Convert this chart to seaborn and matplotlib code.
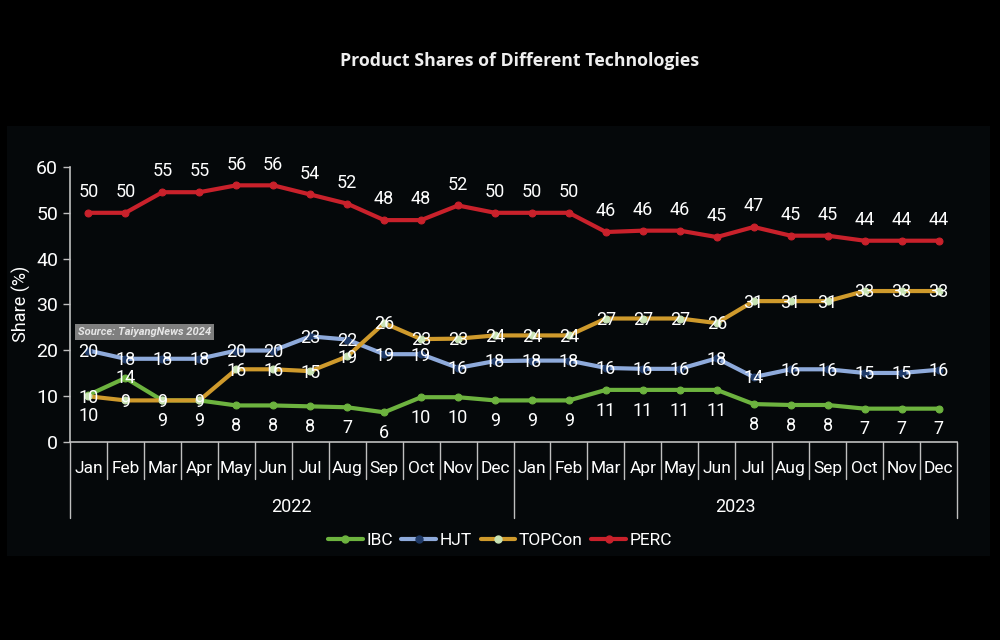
import pandas as pd
import seaborn as sns
import matplotlib.pyplot as plt
from matplotlib import font_manager as fm
from matplotlib.lines import Line2D
from matplotlib.patches import Rectangle

# monthly product share (%) per technology, Jan 2022 .. Dec 2023
months = ["Jan", "Feb", "Mar", "Apr", "May", "Jun",
          "Jul", "Aug", "Sep", "Oct", "Nov", "Dec"]
years = ["2022", "2023"]

ibc = [10.2, 13.9, 9.0, 9.0, 7.9, 7.9, 7.7, 7.5, 6.4, 9.7, 9.7, 9.0,
       9.0, 9.0, 11.3, 11.3, 11.3, 11.3, 8.2, 8.0, 8.0, 7.2, 7.2, 7.2]
hjt = [19.9, 18.1, 18.1, 18.1, 19.9, 19.9, 23.0, 22.3, 19.1, 19.1, 16.1, 17.6,
       17.7, 17.7, 16.1, 15.9, 15.9, 18.2, 14.1, 15.8, 15.8, 15.0, 15.0, 15.7]
topcon = [9.9, 9.0, 9.0, 9.0, 15.8, 15.8, 15.4, 18.6, 25.9, 22.4, 22.5, 23.2,
          23.2, 23.2, 26.9, 26.9, 26.9, 25.9, 30.7, 30.7, 30.7, 32.9, 32.9, 32.9]
perc = [50.0, 50.0, 54.5, 54.5, 56.0, 56.0, 54.0, 52.0, 48.4, 48.4, 51.6, 50.0,
        50.0, 50.0, 45.8, 46.1, 46.1, 44.7, 46.9, 45.0, 45.0, 43.9, 43.9, 43.9]

# printed labels (rounded shares as shown on the chart)
ibc_lbl = [10, 14, 9, 9, 8, 8, 8, 7, 6, 10, 10, 9, 9, 9, 11, 11, 11, 11, 8, 8, 8, 7, 7, 7]
hjt_lbl = [20, 18, 18, 18, 20, 20, 23, 22, 19, 19, 16, 18, 18, 18, 16, 16, 16, 18, 14, 16, 16, 15, 15, 16]
topcon_lbl = [10, 9, 9, 9, 16, 16, 15, 19, 26, 23, 23, 24, 24, 24, 27, 27, 27, 26, 31, 31, 31, 33, 33, 33]
perc_lbl = [50, 50, 55, 55, 56, 56, 54, 52, 48, 48, 52, 50, 50, 50, 46, 46, 46, 45, 47, 45, 45, 44, 44, 44]

techs = ["IBC", "HJT", "TOPCon", "PERC"]
series = {"IBC": ibc, "HJT": hjt, "TOPCon": topcon, "PERC": perc}
labels = {"IBC": ibc_lbl, "HJT": hjt_lbl, "TOPCon": topcon_lbl, "PERC": perc_lbl}

n = len(months) * len(years)
df = pd.DataFrame([
    {"idx": i, "share": v, "tech": t}
    for t in techs for i, v in enumerate(series[t])
])

line_col = {"IBC": "#6db33f", "HJT": "#8eaadb", "TOPCon": "#cf9a2c", "PERC": "#c9212b"}
mark_col = {"IBC": "#6db33f", "HJT": "#1f3a68", "TOPCon": "#c8e3b4", "PERC": "#c9212b"}

panel = "#05080a"
grey = "#bfbfbf"

sns.set_theme(style="dark")
names = {f.name for f in fm.fontManager.ttflist}
narrow = "Liberation Sans Narrow" if "Liberation Sans Narrow" in names else "Roboto"
plt.rcParams["font.family"] = [narrow, "DejaVu Sans"]

fig = plt.figure(figsize=(10, 6.4), dpi=100, facecolor="black")
fig.patches.append(Rectangle((0.007, 0.132), 0.983, 0.671, transform=fig.transFigure,
                             facecolor=panel, edgecolor="none", zorder=-5))
ax = fig.add_axes([0.07, 0.31, 0.887, 0.429])
ax.set_zorder(2)
ax.set_facecolor(panel)

for t in techs:
    sns.lineplot(data=df[df.tech == t], x="idx", y="share", ax=ax,
                 color=line_col[t], linewidth=3, marker="o", markersize=5,
                 markerfacecolor=mark_col[t], markeredgecolor=mark_col[t],
                 label=t, legend=False)

# data labels
for t in techs:
    for i, (v, lab) in enumerate(zip(series[t], labels[t])):
        if t == "PERC":
            dy = 15
        elif t == "IBC":
            dy = 0 if i == 1 else -15
        else:
            dy = -1
        ax.annotate(str(lab), (i, v), xytext=(0, dy), textcoords="offset points",
                    ha="center", va="center", color="white", fontsize=13, zorder=5)

ax.set_xlim(-0.5, n - 0.5)
ax.set_ylim(0, 60)
ax.set_yticks(range(0, 61, 10))
ax.tick_params(axis="y", colors=grey, labelcolor="white", labelsize=14,
               direction="out", length=5, width=1, left=True)
ax.set_xticks([])
ax.set_xlabel("")
ax.set_ylabel("Share (%)", color="white", fontsize=13, labelpad=4)
for s in ["top", "right"]:
    ax.spines[s].set_visible(False)
for s in ["left", "bottom"]:
    ax.spines[s].set_color(grey)
    ax.spines[s].set_linewidth(1.2)
ax.grid(False)

# grouped month / year axis
trans = ax.get_xaxis_transform()
for b in range(n + 1):
    low = -0.28 if b % len(months) == 0 else -0.135
    ax.add_line(Line2D([b - 0.5, b - 0.5], [0, low], transform=trans,
                       color=grey, linewidth=1, clip_on=False))
for i in range(n):
    ax.text(i, -0.098, months[i % len(months)], transform=trans, ha="center",
            va="center", color="white", fontsize=12.5)
for k, y in enumerate(years):
    ax.text(k * len(months) + (len(months) - 1) / 2, -0.237, y, transform=trans,
            ha="center", va="center", color="white", fontsize=13)

ax.text(0.009, 0.40, "Source: TaiyangNews 2024", transform=ax.transAxes,
        ha="left", va="center", color="#e6e6e6", fontsize=8,
        fontweight="bold", fontstyle="italic",
        bbox=dict(boxstyle="square,pad=0.25", facecolor="#7f7f7f", edgecolor="none"))

handles = [Line2D([0], [0], color=line_col[t], linewidth=3, marker="o", markersize=5,
                  markerfacecolor=mark_col[t], markeredgecolor=mark_col[t]) for t in techs]
fig.legend(handles, techs, loc="center", bbox_to_anchor=(0.5, 0.156), ncol=4,
           frameon=False, labelcolor="white", fontsize=12.5, handlelength=2.0,
           handletextpad=0.2, columnspacing=0.5)

fig.text(0.52, 0.905, "Product Shares of Different Technologies", ha="center",
         va="center", color="#eeeeee", fontsize=12.8, fontweight="bold",
         family=["Open Sans", "DejaVu Sans"])

fig.savefig("out.png", dpi=100, facecolor="black")
